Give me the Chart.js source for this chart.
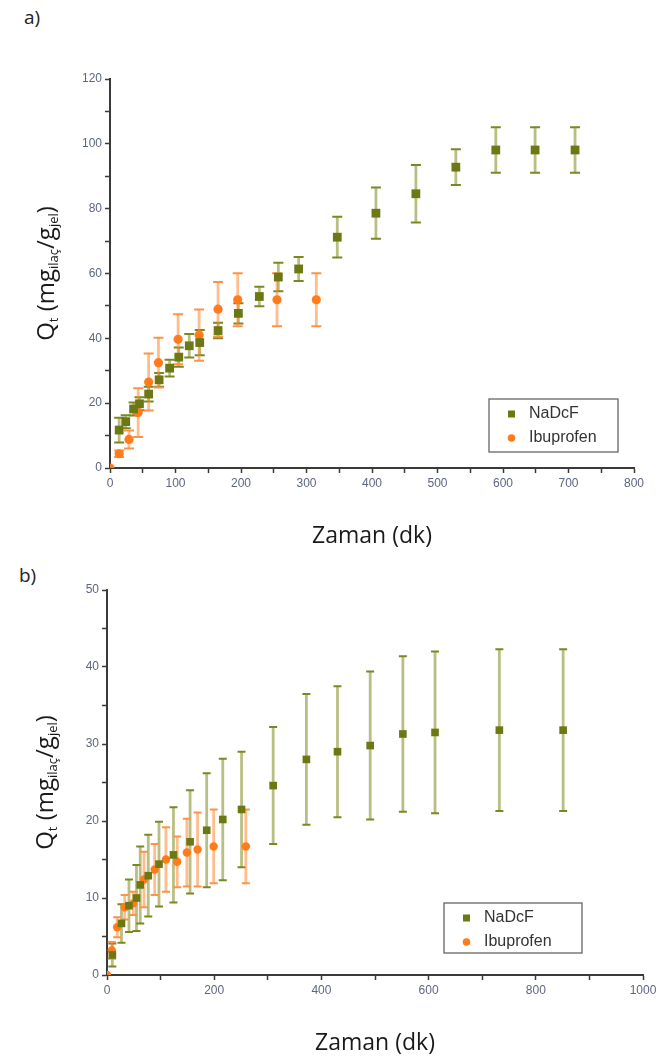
<!DOCTYPE html>
<html>
<head>
<meta charset="utf-8">
<script src="https://cdn.jsdelivr.net/npm/chart.js@4.4.1/dist/chart.umd.min.js"></script>
<style>
  body { margin: 0; background: #fff; width: 662px; height: 1057px; position: relative; overflow: hidden; font-family: "Open Sans", sans-serif; }
  .panel { position: absolute; left: 0; width: 662px; }
  .tag { position: absolute; font-size: 19px; color: #222; }
</style>
</head>
<body>
<div class="tag" style="left:24px; top:4px;">a)</div>
<div class="tag" style="left:19px; top:562px;">b)</div>
<div class="panel" style="top:0; height:550px;"><canvas id="chartA"></canvas></div>
<div class="panel" style="top:550px; height:507px;"><canvas id="chartB"></canvas></div>

<script>
// ---- panel a) data
const timeNaA = [14, 24, 36, 45, 59, 75, 91, 105, 121, 137, 165, 196, 228, 257, 288, 347, 406, 467, 528, 589, 649, 710]
const qNaA = [11.7, 14.3, 18.2, 19.8, 22.8, 27.2, 30.8, 34.2, 37.7, 38.7, 42.4, 47.7, 52.9, 58.9, 61.4, 71.2, 78.6, 84.6, 92.8, 98.1, 98.1, 98.1]
const errNaA = [3.8, 2.0, 2.0, 2.0, 2.3, 2.1, 2.6, 3.0, 3.6, 3.9, 2.4, 3.1, 3.0, 4.4, 3.7, 6.3, 7.9, 8.9, 5.5, 7.0, 7.0, 7.0]

const timeIbuA = [0, 14, 29, 43, 59, 74, 104, 136, 165, 195, 255, 315]
const qIbuA = [0, 4.4, 8.8, 17.1, 26.5, 32.5, 39.7, 41.0, 49.0, 51.9, 51.9, 51.9]
const errIbuA = [0, 1.0, 2.8, 7.5, 8.8, 7.7, 7.7, 7.9, 8.4, 8.2, 8.2, 8.2]

// ---- panel b) data
const timeNaB = [10, 27, 41, 55, 62, 77, 97, 124, 155, 186, 216, 251, 310, 372, 430, 491, 552, 612, 732, 851]
const qNaB = [2.6, 6.7, 9.0, 10.0, 11.7, 12.9, 14.4, 15.6, 17.3, 18.8, 20.2, 21.5, 24.6, 28.0, 29.0, 29.8, 31.3, 31.5, 31.8, 31.8]
const errNaB = [1.5, 2.5, 3.4, 4.3, 5.0, 5.3, 5.5, 6.2, 6.7, 7.4, 7.9, 7.5, 7.6, 8.5, 8.5, 9.6, 10.1, 10.5, 10.5, 10.5]

const timeIbuB = [0, 9, 19, 33, 49, 69, 89, 110, 131, 149, 169, 199, 259]
const qIbuB = [0, 3.2, 6.2, 8.8, 9.3, 12.4, 13.7, 15.0, 14.7, 15.9, 16.3, 16.7, 16.7]
const errIbuB = [0, 1.1, 1.3, 1.6, 1.5, 3.6, 3.3, 4.2, 3.3, 4.4, 4.8, 4.8, 4.8]

const seriesNames = ["NaDcF", "Ibuprofen"]
const xTitle = "Zaman (dk)"

const OLIVE = "#6b7814"
const OLIVE_BAR = "rgba(128,138,30,0.55)"
const OLIVE_CAP = "#7c8722"
const ORANGE = "#ff7b1c"
const ORANGE_BAR = "rgba(255,135,45,0.55)"
const ORANGE_CAP = "#fb9448"

const toPoints = (xs, ys) => xs.map((x, i) => ({ x, y: ys[i] }))

// vertical error bars, drawn through the chart scales
const errorBars = {
  id: "errorBars",
  beforeDatasetsDraw(chart) {
    const { ctx } = chart
    const xs = chart.scales.x
    const ys = chart.scales.y
    chart.data.datasets.forEach((ds) => {
      const cap = ds.capWidth / 2
      ds.data.forEach((p, i) => {
        const e = ds.errors[i]
        if (!e) return
        const px = xs.getPixelForValue(p.x)
        const top = ys.getPixelForValue(p.y + e)
        const bot = ys.getPixelForValue(p.y - e)
        ctx.save()
        ctx.strokeStyle = ds.barColor
        ctx.lineWidth = 2.8
        ctx.beginPath()
        ctx.moveTo(px, top)
        ctx.lineTo(px, bot)
        ctx.stroke()
        ctx.strokeStyle = ds.capColor
        ctx.lineWidth = 2
        ctx.beginPath()
        ctx.moveTo(px - cap, top)
        ctx.lineTo(px + cap, top)
        ctx.moveTo(px - cap, bot)
        ctx.lineTo(px + cap, bot)
        ctx.stroke()
        ctx.restore()
      })
    })
  },
}

// rotated y title with subscripts, and the boxed legend
const extras = {
  id: "extras",
  afterDraw(chart, args, opts) {
    const { ctx, chartArea } = chart
    const parts = [
      ["Q", false], ["t", true], [" (mg", false], ["ilaç", true],
      ["/g", false], ["jel", true], [")", false],
    ]
    const big = "24px 'Open Sans'"
    const small = "13px 'Open Sans'"
    ctx.save()
    let total = 0
    parts.forEach(([t, sub]) => {
      ctx.font = sub ? small : big
      total += ctx.measureText(t).width
    })
    ctx.translate(opts.titleX, (chartArea.top + chartArea.bottom) / 2)
    ctx.rotate(-Math.PI / 2)
    ctx.fillStyle = "#1a1a1a"
    ctx.textBaseline = "alphabetic"
    let pos = -total / 2
    parts.forEach(([t, sub]) => {
      ctx.font = sub ? small : big
      ctx.fillText(t, pos, sub ? 4 : 0)
      pos += ctx.measureText(t).width
    })
    ctx.restore()

    // legend box
    const bx = chartArea.right - opts.legendRight - opts.legendW
    const by = chartArea.bottom - opts.legendBottom - opts.legendH
    ctx.save()
    ctx.strokeStyle = "#666"
    ctx.lineWidth = 1.3
    ctx.strokeRect(bx, by, opts.legendW, opts.legendH)
    ctx.font = "16px 'Liberation Sans'"
    ctx.textBaseline = "middle"
    chart.data.datasets.forEach((ds, i) => {
      const cy = by + 15 + i * 24
      ctx.fillStyle = ds.backgroundColor
      if (ds.pointStyle === "rect") ctx.fillRect(bx + 19, cy - 3.5, 7, 7)
      else {
        ctx.beginPath()
        ctx.arc(bx + 22.5, cy, 3.8, 0, Math.PI * 2)
        ctx.fill()
      }
      ctx.fillStyle = "#333"
      ctx.fillText(ds.label, bx + 40, cy)
    })
    ctx.restore()
  },
}

const makeChart = (id, cfg) => {
  const tickFont = { family: "Liberation Sans", size: 12 }
  return new Chart(document.getElementById(id), {
    type: "scatter",
    data: {
      datasets: [
        {
          label: seriesNames[0],
          data: toPoints(cfg.naT, cfg.naQ),
          errors: cfg.naE,
          pointStyle: "rect",
          pointRadius: cfg.naR,
          backgroundColor: OLIVE,
          borderColor: OLIVE,
          borderWidth: 0,
          barColor: OLIVE_BAR,
          capColor: OLIVE_CAP,
          capWidth: cfg.cap,
        },
        {
          label: seriesNames[1],
          data: toPoints(cfg.ibT, cfg.ibQ),
          errors: cfg.ibE,
          pointStyle: "circle",
          pointRadius: cfg.ibR,
          backgroundColor: ORANGE,
          borderColor: ORANGE,
          borderWidth: 0,
          barColor: ORANGE_BAR,
          capColor: ORANGE_CAP,
          capWidth: cfg.cap,
        },
      ],
    },
    options: {
      responsive: true,
      maintainAspectRatio: false,
      animation: false,
      layout: { padding: cfg.padding },
      plugins: {
        legend: { display: false },
        tooltip: { enabled: false },
        extras: cfg.extras,
      },
      scales: {
        x: {
          type: "linear",
          min: 0,
          max: cfg.xMax,
          border: { color: "#3a3a3a", width: 2 },
          grid: { drawOnChartArea: false, tickLength: 5, tickColor: "#3a3a3a", tickWidth: 1.5 },
          ticks: {
            stepSize: cfg.xStep,
            color: "#5c6680",
            font: tickFont,
            padding: 3,
            maxRotation: 0,
            autoSkip: false,
            callback: (v) => (v % cfg.xLabelEvery === 0 ? v : ""),
          },
          title: {
            display: true,
            text: xTitle,
            color: "#1a1a1a",
            font: { family: "Open Sans", size: 23, lineHeight: 1.2 },
            padding: { top: 0, bottom: 0 },
          },
          afterFit: (s) => { s.height = cfg.xAxisH },
        },
        y: {
          type: "linear",
          min: 0,
          max: cfg.yMax,
          border: { color: "#3a3a3a", width: 2 },
          grid: { drawOnChartArea: false, tickLength: 5, tickColor: "#3a3a3a", tickWidth: 1.5 },
          ticks: {
            stepSize: cfg.yStep,
            color: "#5c6680",
            font: tickFont,
            padding: 3,
            autoSkip: false,
            callback: (v) => (v % cfg.yLabelEvery === 0 ? v : ""),
          },
          afterFit: (s) => { s.width = cfg.yAxisW },
        },
      },
    },
    plugins: [errorBars, extras],
  })
}

makeChart("chartA", {
  naT: timeNaA, naQ: qNaA, naE: errNaA,
  ibT: timeIbuA, ibQ: qIbuA, ibE: errIbuA,
  naR: 6.2, ibR: 4.6, cap: 10,
  xMax: 800, xStep: 50, xLabelEvery: 100,
  yMax: 120, yStep: 10, yLabelEvery: 20,
  padding: { left: 0, right: 28, top: 79, bottom: 0 },
  xAxisH: 82, yAxisW: 110,
  extras: { titleX: 54, legendRight: 16, legendBottom: 16, legendW: 129, legendH: 53 },
})

makeChart("chartB", {
  naT: timeNaB, naQ: qNaB, naE: errNaB,
  ibT: timeIbuB, ibQ: qIbuB, ibE: errIbuB,
  naR: 5.4, ibR: 4.2, cap: 8,
  xMax: 1000, xStep: 100, xLabelEvery: 200,
  yMax: 50, yStep: 5, yLabelEvery: 10,
  padding: { left: 0, right: 19, top: 40, bottom: 0 },
  xAxisH: 82, yAxisW: 107,
  extras: { titleX: 53, legendRight: 61, legendBottom: 22, legendW: 138, legendH: 50 },
})
</script>
</body>
</html>
